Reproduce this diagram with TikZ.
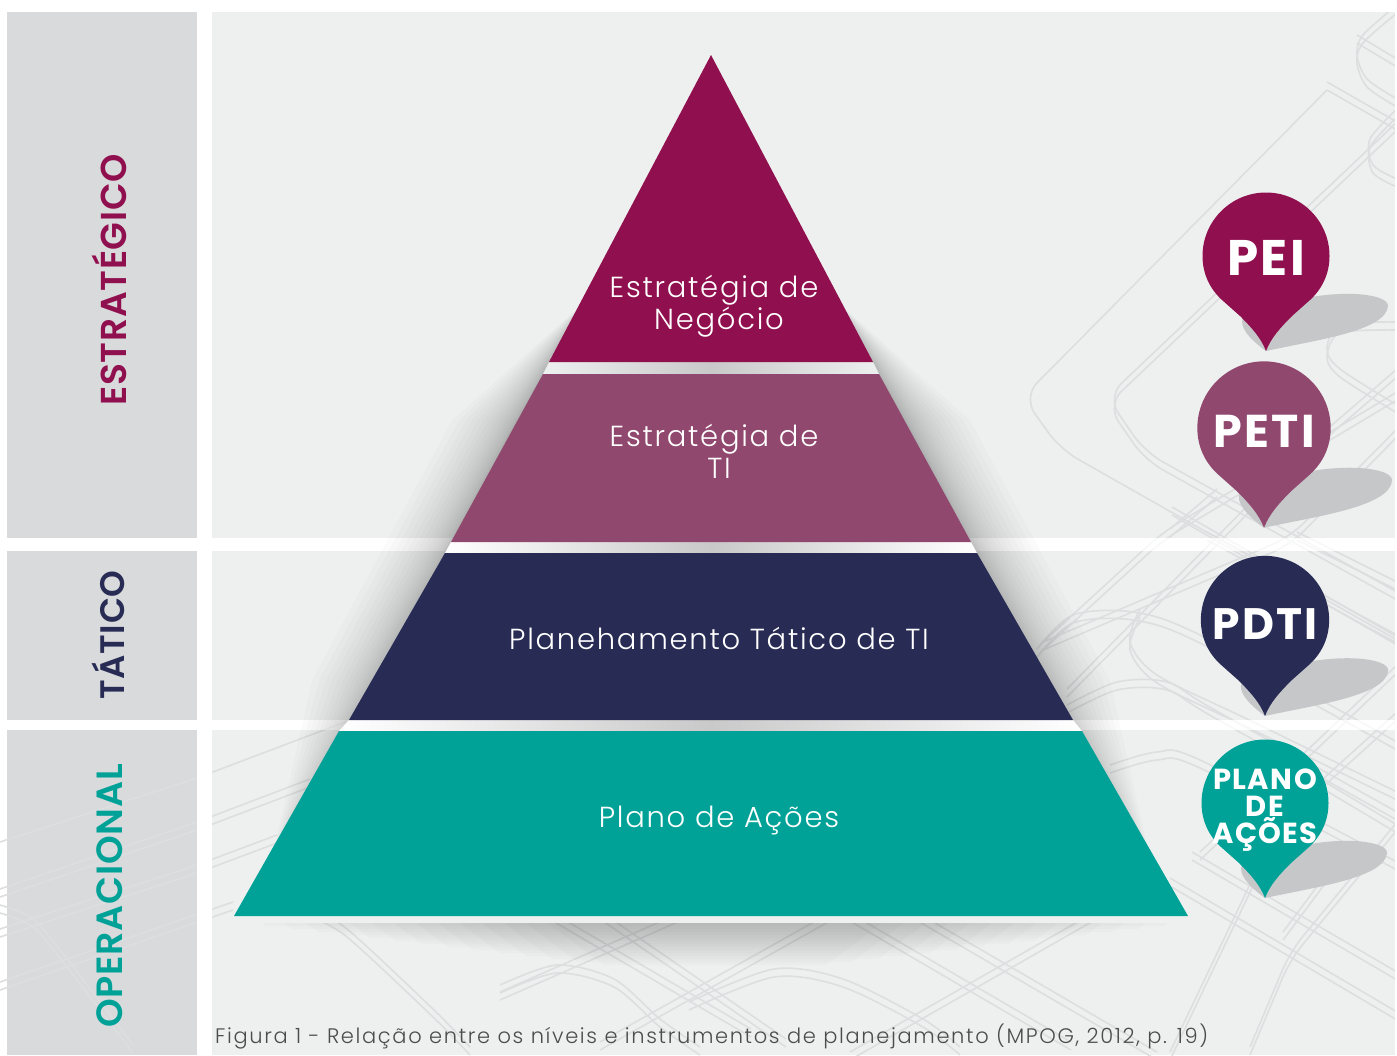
\documentclass[tikz,border=0pt]{standalone}
\usepackage{fontspec}
\setmainfont{Poppins}
\newfontfamily\lightfont[LetterSpace=6]{Poppins Light}
\newfontfamily\captionfont[LetterSpace=7.8]{Poppins Light}
\newfontfamily\boldfont[LetterSpace=2]{Poppins SemiBold}
\newfontfamily\pinfont[LetterSpace=5]{Poppins Bold}
\usepackage{xcolor}
\usetikzlibrary{positioning}

\definecolor{plum}{HTML}{90104F}
\definecolor{mauve}{HTML}{91486F}
\definecolor{navy}{HTML}{282C55}
\definecolor{teal}{HTML}{00A298}
\definecolor{sidegray}{HTML}{D9DADC}
\definecolor{panelgray}{HTML}{EEF0EF}
\definecolor{roadgray}{HTML}{DDDEDF}
\definecolor{pinshadow}{HTML}{C6C7C9}
\definecolor{gapgray}{HTML}{C8C9C8}

\tikzset{
  road/.style={draw=roadgray,line width=1.6pt,rounded corners=20pt},
  arcroad/.style={draw=roadgray,line width=1.6pt,smooth},
  gapband/.style={left color=#1,right color=#1,middle color=gapgray},
  tier/.style={text=white,align=center,font=\lightfont\fontsize{29}{32}\selectfont},
  level/.style={rotate=90,font=\boldfont\fontsize{#1}{38}\selectfont},
  pintext/.style={text=white,align=center,font=\pinfont\fontsize{#1}{#1}\selectfont},
}

% pin: name, x, y, scale, colour, text style, text
\newcommand{\pin}[7]{
  \begin{scope}[shift={(#2,#3)},scale=#4]
    \fill[pinshadow] (0,95) .. controls (50,84) and (120,75) .. (122,50)
      .. controls (122,38) and (80,34) .. (40,42) -- (-23,62)
      .. controls (-27,70) and (-18,82) .. (0,95) -- cycle;
    \fill[#5] (0,95) .. controls (-5,82) and (-14,72) .. (-26,60) -- (-44,44)
      .. controls (-56,33) and (-63.5,18) .. (-63.5,0)
      .. controls (-63.5,-35) and (-35,-63.5) .. (0,-63.5)
      .. controls (35,-63.5) and (63.5,-35) .. (63.5,0)
      .. controls (63.5,18) and (56,33) .. (44,44) -- (26,60)
      .. controls (14,72) and (5,82) .. (0,95) -- cycle;
  \end{scope}
  \node[#6] (#1) at (#2,#3) {#7};
}

\begin{document}
\begin{tikzpicture}[x=1pt,y=-1pt]
  \useasboundingbox (0,0) rectangle (1397,1055);
  \fill[white] (0,0) rectangle (1397,1055);

  % panels
  \foreach \top/\bot in {12/538,551/720,730/1055} {
    \fill[sidegray] (7,\top) rectangle (197,\bot);
    \fill[panelgray] (212,\top) rectangle (1395,\bot);
  }

  % road pattern
  \begin{scope}
    \clip (0,12) rectangle (1397,1055);
    \draw[road] (1327,90) -- (1023,397) -- (1060,449) -- (1397,640);
    \draw[road] (0,842) -- (197,778) -- (345,722);
    \foreach \s in {0,8} {
      \draw[road,yshift=\s] (1397,130) -- (1107,405) -- (1145,460) -- (1397,600);
      \draw[arcroad,yshift=\s] plot coordinates {(1397,13) (1363,43) (1357,63) (1367,87) (1397,107)};
      \draw[arcroad,yshift=\s] plot coordinates {(1397,117) (1370,147) (1373,173) (1397,187)};
      \draw[arcroad,yshift=\s] plot coordinates {(1397,330) (1340,333) (1327,357) (1340,377) (1397,413)};
      \draw[yshift=\s,road] (1357,43) -- (1397,67);
      \draw[yshift=\s,road] (1327,90) -- (1397,130);
      \draw[yshift=\s,road] (1397,377) -- (1260,495);
      \draw[yshift=\s,road] (1397,437) -- (1290,545) -- (1043,650);
      \draw[yshift=\s,road] (1397,400) -- (1163,540) -- (1043,650);
      \draw[yshift=\s,road] (1330,430) -- (1067,697);
      \draw[yshift=\s,road] (1217,497) -- (1170,537);
      \draw[yshift=\s,road] (1172,515) -- (1397,645);
      \draw[yshift=\s,road] (1297,540) -- (1397,590);
      \draw[yshift=\s,road] (1207,540) -- (1397,643);
      \draw[arcroad,yshift=\s] plot coordinates {(1037,657) (1073,623) (1133,620) (1200,643) (1397,750)};
      \draw[arcroad,yshift=\s] plot coordinates {(1067,713) (1117,690) (1167,690) (1213,717) (1397,820)};
      \draw[arcroad,yshift=\s] plot coordinates {(1110,773) (1157,760) (1200,768) (1397,870)};
      \draw[arcroad,yshift=\s] plot coordinates {(1140,617) (1130,650) (1157,683) (1247,727) (1397,800)};
      \draw[yshift=\s,road] (1397,720) -- (1283,823) -- (1170,1060);
      \draw[yshift=\s,road] (1397,673) -- (1200,860);
      \draw[yshift=\s,road] (1397,830) -- (1290,960) -- (1250,1055);
      \draw[yshift=\s,road] (1333,873) -- (1283,940);
      \draw[yshift=\s,road] (1320,787) -- (1397,833);
      \draw[yshift=\s,road] (1170,886) -- (1397,1020);
      \draw[yshift=\s,road] (1192,860) -- (1397,980);
      % below the pyramid
      \draw[yshift=\s,road] (546,917) -- (751,1037);
      \draw[yshift=\s,road] (597,917) -- (786,1047);
      \draw[yshift=\s,road] (843,917) -- (1071,1050);
      \draw[yshift=\s,road] (911,917) -- (1157,1060);
      \draw[yshift=\s,road] (689,917) -- (500,1000);
      \draw[yshift=\s,road] (837,917) -- (600,1050);
      \draw[yshift=\s,road] (1100,917) -- (850,1060);
      \draw[arcroad,yshift=\s] plot coordinates {(500,993) (557,973) (614,987) (660,1027) (700,1055)};
      \draw[arcroad,yshift=\s] plot coordinates {(689,1010) (774,977) (843,987) (923,1027) (960,1055)};
      % lower left
      \draw[yshift=\s,road] (0,897) -- (197,830) -- (310,787);
      \draw[yshift=\s,road] (0,937) -- (197,873) -- (277,843);
      \draw[yshift=\s,road] (0,990) -- (233,910);
      \draw[arcroad,yshift=\s] plot coordinates {(0,913) (33,927) (67,967) (133,1053)};
      \draw[arcroad,yshift=\s] plot coordinates {(310,917) (347,937) (433,1017) (470,1055)};
    }
  \end{scope}
  % gaps stay almost clean
  \fill[white,opacity=.8] (0,538) rectangle (1397,551);
  \fill[white,opacity=.8] (0,720) rectangle (1397,730);
  \fill[white] (197,0) rectangle (212,1055);
  \fill[white] (0,0) rectangle (1397,12);
  \fill[white] (1395,0) rectangle (1397,1055);

  % shadows of the pyramid
  \foreach \i in {1,...,18} {
    \pgfmathsetmacro{\d}{\i*\i*.2}
    \fill[black,opacity=.016] (800,300) -- (835,300) -- ({905+\d},420) -- ({1045+\d},680)
      -- (1155,880) -- (1000,880) -- cycle;
    \fill[black,opacity=.016] (620,300) -- (587,300) -- ({517-\d},420) -- ({377-\d},680)
      -- (267,880) -- (420,880) -- cycle;
  }
  \foreach \i in {1,...,14} {
    \fill[black,opacity=.014] ({240+\i*22},923) -- ({1190-\i*22},923)
      -- ({1190-\i*26},{923+\i*3}) -- ({240+\i*26},{923+\i*3}) -- cycle;
  }
  \fill[panelgray] (240,916) rectangle (1190,923);

  % pyramid
  \shade[gapband=panelgray] (549,362) -- (873,362) -- (879,374) -- (543,374) -- cycle;
  \shade[gapband=white] (451,542) -- (971,542) -- (977,553) -- (445,553) -- cycle;
  \shade[gapband=white] (349,720) -- (1073,720) -- (1082,731) -- (339,731) -- cycle;
  \fill[plum] (711,55) -- (873,362) -- (549,362) -- cycle;
  \fill[mauve] (543,374) -- (879,374) -- (971,542) -- (451,542) -- cycle;
  \fill[navy] (445,553) -- (977,553) -- (1073,720) -- (349,720) -- cycle;
  \fill[teal] (339,731) -- (1082,731) -- (1188,916) -- (234,916) -- cycle;

  \node[tier] (negocio) at (719,306) {Estratégia de\hspace*{10pt}\\Negócio};
  \node[tier] (ti) at (719,451) {Estratégia de\hspace*{10pt}\\TI};
  \node[tier] (tatico) at (719,638) {Planehamento Tático de TI};
  \node[tier] (acoes) at (719,820) {Plano de Ações};

  % levels
  \node[level=36,text=plum] (estrategico) at (109,280) {ESTRATÉGICO};
  \node[level=34,text=navy] (taticolevel) at (108,635) {TÁTICO};
  \node[level=36.5,text=teal] (operacional) at (110,896) {OPERACIONAL};

  % pins
  \pin{pei}{1266}{256}{1}{plum}{pintext=50,yshift=-2pt}{PEI}
  \pin{peti}{1264}{428}{1.05}{mauve}{pintext=46,yshift=-3pt}{PETI}
  \pin{pdti}{1265}{620}{1.01}{navy}{pintext=44,yshift=-4pt}{PDTI}
  \pin{plano}{1265}{803}{1}{teal}{pintext=29,yshift=-7pt}{PLANO\\[-2pt]DE\\[-2pt]AÇÕES}

  \node[anchor=west,text=black!70,font=\captionfont\fontsize{21}{24}\selectfont,inner sep=0pt] (legenda) at (215,1036)
    {Figura 1 - Relação entre os níveis e instrumentos de planejamento (MPOG, 2012, p. 19)};
\end{tikzpicture}
\end{document}
